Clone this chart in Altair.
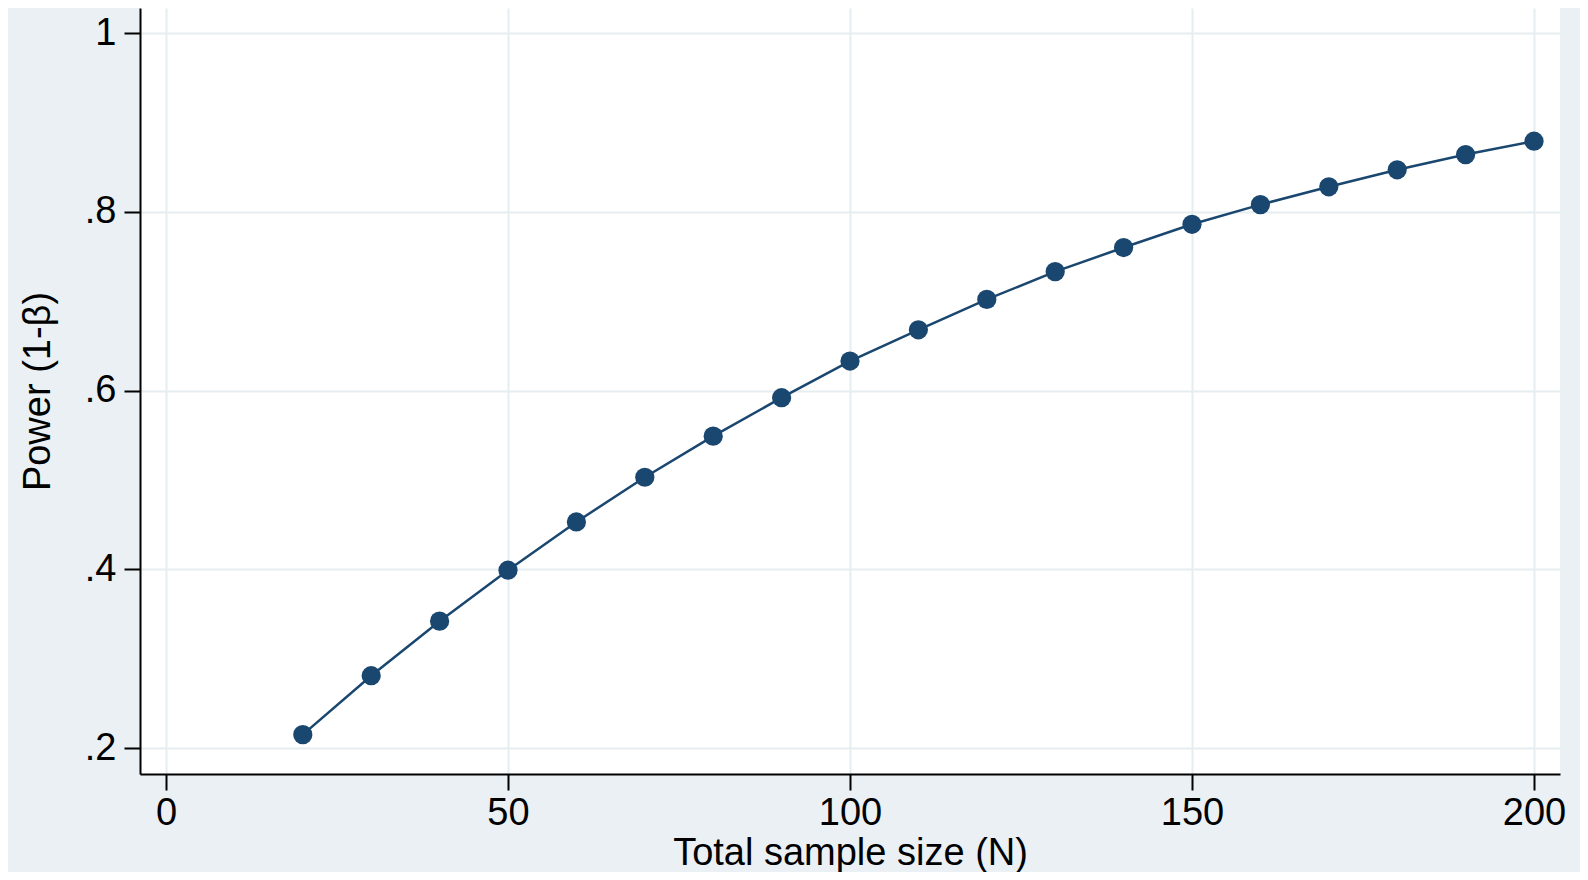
import altair as alt
import pandas as pd

sample_size = [20, 30, 40, 50, 60, 70, 80, 90, 100, 110, 120, 130, 140, 150, 160, 170, 180, 190, 200]
power = [0.215, 0.281, 0.342, 0.399, 0.453, 0.503, 0.549, 0.592, 0.633, 0.668, 0.702,
         0.733, 0.760, 0.786, 0.808, 0.828, 0.847, 0.864, 0.879]
x_ticks = [0, 50, 100, 150, 200]
y_ticks = [0.2, 0.4, 0.6, 0.8, 1.0]

df = pd.DataFrame({"N": sample_size, "power": power})

navy = "#1a476f"
font = "Liberation Sans"

x_enc = alt.X(
    "N:Q",
    scale=alt.Scale(domain=[-3.8, 203.8], nice=False, zero=False),
    axis=alt.Axis(
        values=x_ticks,
        title="Total sample size (N)",
        format="d",
        labelPadding=4,
        titleX=710,
        titleY=90,
        titleAlign="center",
        titleBaseline="alphabetic",
    ),
)
y_enc = alt.Y(
    "power:Q",
    scale=alt.Scale(domain=[0.171, 1.028], nice=False, zero=False),
    axis=alt.Axis(
        values=y_ticks,
        title="Power (1-β)",
        labelExpr="datum.value >= 1 ? '1' : substring(format(datum.value, '.1f'), 1)",
        labelPadding=8,
        titleX=-102,
        titleY=383,
        titleAlign="center",
        titleBaseline="middle",
        titleAngle=270,
    ),
)

base = alt.Chart(df).encode(x=x_enc, y=y_enc)
line = base.mark_line(color=navy, strokeWidth=2.5)
points = base.mark_circle(color=navy, size=370, opacity=1)

chart = (
    alt.layer(line, points)
    .properties(
        width=1420,
        height=766,
        autosize=alt.AutoSizeParams(type="none"),
        padding={"left": 132, "top": 0, "right": 20, "bottom": 98},
        background="#eaf0f3",
    )
    .configure_view(fill="white", stroke=None)
    .configure_axis(
        domainColor="#000000",
        domainWidth=2,
        tickColor="#000000",
        tickWidth=2,
        tickSize=16,
        labelFont=font,
        labelFontSize=38,
        labelColor="#000000",
        titleFont=font,
        titleFontSize=38,
        titleFontWeight="normal",
        titleColor="#000000",
        gridColor="#e6edf0",
        gridWidth=2,
        labelFlush=False,
        labelOverlap=False,
    )
)

chart.save("out.html", embed_options={"renderer": "svg", "actions": False})
